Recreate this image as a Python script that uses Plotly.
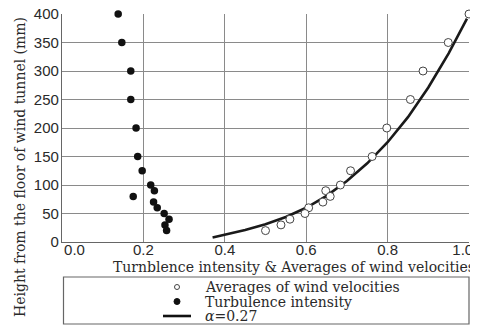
import plotly.graph_objects as go

# Turbulence intensity (filled markers)
turb_x = [0.138, 0.147, 0.169, 0.169, 0.182, 0.186, 0.197, 0.218, 0.227, 0.175, 0.225, 0.234, 0.251, 0.263, 0.253, 0.257]
turb_y = [400, 350, 300, 250, 200, 150, 125, 100, 90, 80, 70, 60, 50, 40, 30, 20]

# Averages of wind velocities (open markers)
avg_x = [1.0, 0.949, 0.887, 0.856, 0.798, 0.762, 0.709, 0.684, 0.648, 0.659, 0.641, 0.606, 0.597, 0.560, 0.538, 0.500]
avg_y = [400, 350, 300, 250, 200, 150, 125, 100, 90, 80, 70, 60, 50, 40, 30, 20]

# Power-law curve alpha = 0.27
curve_x = [0.37, 0.40, 0.45, 0.50, 0.55, 0.60, 0.65, 0.70, 0.75, 0.80, 0.85, 0.90, 0.95, 0.995]
curve_y = [8, 13, 21, 31, 44, 60, 81, 107, 138, 175, 219, 271, 331, 392]

x_ticks = [0.0, 0.2, 0.4, 0.6, 0.8, 1.0]
x_tick_labels = ["0.0", "0.2", "0.4", "0.6", "0.8", "1.0"]
y_ticks = [0, 50, 100, 150, 200, 250, 300, 350, 400]

legend_labels = ["Averages of wind velocities", "Turbulence intensity", "<i>\u03b1</i>=0.27"]

NB = "\u00a0"
# first label sits to the right of the origin, last one pulled in from the edge
x_tick_text = list(x_tick_labels)
x_tick_text[0] = NB * 6 + x_tick_text[0]
x_tick_text[-1] = x_tick_text[-1] + "<span style='color:rgba(0,0,0,0)'>" + NB * 3 + "</span>"

fig = go.Figure()
fig.add_trace(go.Scatter(x=curve_x, y=curve_y, mode="lines",
                         line=dict(color="#1a1a1a", width=2.6), showlegend=False))
fig.add_trace(go.Scatter(x=turb_x, y=turb_y, mode="markers", cliponaxis=False,
                         marker=dict(color="#111111", size=7.5), showlegend=False))
fig.add_trace(go.Scatter(x=avg_x, y=avg_y, mode="markers", cliponaxis=False,
                         marker=dict(color="white", size=8, line=dict(color="#444444", width=1)),
                         showlegend=False))

serif = "DejaVu Serif, Liberation Serif, serif"
sans = "Liberation Sans, Arial, sans-serif"

# page body has an 8px margin, so the figure is 8px smaller than the window on each axis
fig.update_layout(
    width=470, height=319,
    margin=dict(l=54, r=9, t=6, b=85, autoexpand=False),
    paper_bgcolor="white", plot_bgcolor="white",
    xaxis=dict(range=[0, 1.0], tickvals=x_ticks, ticktext=x_tick_text,
               showgrid=True, gridcolor="#8a8a8a", gridwidth=1,
               showline=True, linecolor="#666666", linewidth=1.2,
               ticks="", zeroline=False, ticklabelstandoff=-6,
               ticklabeloverflow="allow", automargin=False,
               tickfont=dict(family=sans, size=15, color="#2a2a2a")),
    yaxis=dict(range=[0, 400], tickvals=y_ticks,
               showgrid=True, gridcolor="#8a8a8a", gridwidth=1,
               showline=True, linecolor="#666666", linewidth=1.2,
               ticks="", zeroline=False, ticklabelstandoff=-1,
               ticklabeloverflow="allow", automargin=False,
               tickfont=dict(family=sans, size=15, color="#2a2a2a")),
)


def py(p):
    return 1 - (p - 14) / 228.0


def px(p):
    return (p - 62) / 407.0


# axis titles
fig.add_annotation(text="Turnblence intensity &amp; Averages of wind velocities",
                   xref="paper", yref="paper", x=px(294), y=py(267),
                   xanchor="center", yanchor="middle",
                   showarrow=False, font=dict(family=serif, size=14, color="#2a2a2a"))
fig.add_annotation(text="Height from the floor of wind tunnel (mm)",
                   xref="paper", x=px(20), yref="paper", y=py(167), textangle=-90,
                   xanchor="center", yanchor="middle",
                   showarrow=False, font=dict(family=serif, size=14, color="#2a2a2a"))

# custom legend box
fig.add_shape(type="rect", xref="paper", yref="paper",
              x0=px(63.5), x1=px(469), y0=py(324), y1=py(277),
              line=dict(color="#666666", width=1.2), fillcolor="rgba(0,0,0,0)")
rows = [287, 301.5, 316]
fig.add_shape(type="circle", xref="paper", yref="paper", xsizemode="pixel", ysizemode="pixel",
              xanchor=px(177), yanchor=py(rows[0]), x0=-2.5, x1=2.5, y0=-2.5, y1=2.5,
              line=dict(color="#444444", width=1), fillcolor="white")
fig.add_shape(type="circle", xref="paper", yref="paper", xsizemode="pixel", ysizemode="pixel",
              xanchor=px(177), yanchor=py(rows[1]), x0=-3, x1=3, y0=-3, y1=3,
              line=dict(color="#111111", width=1), fillcolor="#111111")
fig.add_shape(type="line", xref="paper", yref="paper",
              x0=px(163), x1=px(191), y0=py(rows[2]), y1=py(rows[2]),
              line=dict(color="#111111", width=2.6))
for r, lab in zip(rows, legend_labels):
    fig.add_annotation(text=lab, xref="paper", yref="paper", x=px(203), y=py(r),
                       xanchor="left", yanchor="middle", showarrow=False,
                       font=dict(family=serif, size=14, color="#2a2a2a"))

fig.write_html("out.html")
